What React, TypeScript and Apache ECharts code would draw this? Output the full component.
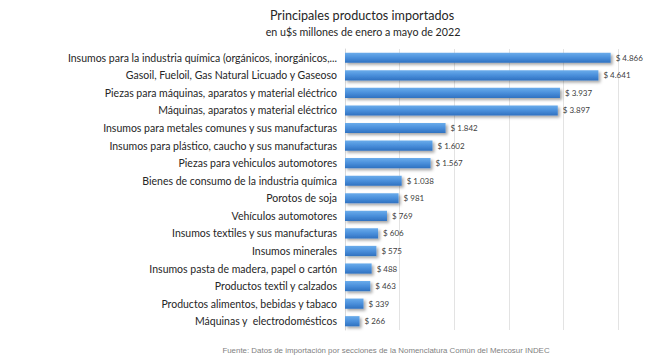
import React, { useEffect, useRef } from "react";
import * as echarts from "echarts";

const categories = [
  "Insumos para la industria química (orgánicos, inorgánicos,...",
  "Gasoil, Fueloil, Gas Natural Licuado y Gaseoso",
  "Piezas para máquinas, aparatos y material eléctrico",
  "Máquinas, aparatos y material eléctrico",
  "Insumos para metales comunes y sus manufacturas",
  "Insumos para plástico, caucho y sus manufacturas",
  "Piezas para vehiculos automotores",
  "Bienes de consumo de la industria química",
  "Porotos de soja",
  "Vehículos automotores",
  "Insumos textiles y sus manufacturas",
  "Insumos minerales",
  "Insumos pasta de madera, papel o cartón",
  "Productos textil y calzados",
  "Productos alimentos, bebidas y tabaco",
  "Máquinas y  electrodomésticos",
];
const values = [4866, 4641, 3937, 3897, 1842, 1602, 1567, 1038, 981, 769, 606, 575, 488, 463, 339, 266];

const titleText = "Principales productos importados";
const subtitleText = "en u$s millones de enero a mayo de 2022";
const sourceText = "Fuente: Datos de importación por secciones de la Nomenclatura Común del Mercosur INDEC";

const fmt = (v: number) => "$ " + String(v).replace(/\B(?=(\d{3})+(?!\d))/g, ".");

export default function App() {
  const ref = useRef<HTMLDivElement>(null);
  useEffect(() => {
    if (!ref.current) return;
    const chart = echarts.init(ref.current, undefined, { renderer: "svg" });
    chart.setOption({
      animation: false,
      backgroundColor: "#ffffff",
      title: [
        {
          text: titleText,
          left: 357,
          textAlign: "center",
          top: 4,
          textStyle: { fontFamily: "Lato", fontSize: 12.6, fontWeight: "normal", color: "#262626" },
        },
        {
          text: subtitleText,
          left: 358,
          textAlign: "center",
          top: 21,
          textStyle: { fontFamily: "Lato", fontSize: 10.7, fontWeight: "normal", color: "#262626" },
        },
        {
          text: sourceText,
          left: 381,
          textAlign: "center",
          top: 341,
          textStyle: { fontFamily: "Liberation Sans", fontSize: 7.9, fontWeight: "normal", color: "#7f7f7f" },
        },
      ],
      grid: { left: 345, right: 32, top: 49, bottom: 34, containLabel: false },
      xAxis: {
        type: "value",
        min: 0,
        max: 5000,
        interval: 1000,
        axisLabel: { show: false },
        axisLine: { show: false },
        axisTick: { show: false },
        splitLine: { show: true, lineStyle: { color: "#e3e3e3", width: 1 } },
      },
      yAxis: {
        type: "category",
        data: categories,
        inverse: true,
        axisLine: { show: true, lineStyle: { color: "#d9d9d9" } },
        axisTick: { show: false },
        axisLabel: {
          fontFamily: "Lato",
          fontSize: 10.5,
          color: "#262626",
          margin: 8,
        },
      },
      series: [
        {
          type: "bar",
          data: values,
          barCategoryGap: "42%",
          itemStyle: {
            color: new echarts.graphic.LinearGradient(0, 0, 0, 1, [
              { offset: 0, color: "#6aaceb" },
              { offset: 0.5, color: "#4a8fdb" },
              { offset: 1, color: "#2f71c0" },
            ]),
            shadowColor: "rgba(0,0,0,0.35)",
            shadowBlur: 3,
            shadowOffsetX: 2,
            shadowOffsetY: 2,
          },
          label: {
            show: true,
            position: "right",
            distance: 5,
            formatter: (p: any) => fmt(p.value),
            fontFamily: "Lato",
            fontSize: 8,
            color: "#404040",
          },
        },
      ],
    });
    return () => chart.dispose();
  }, []);
  return <div ref={ref} style={{ position: "fixed", left: 0, top: 0, width: 650, height: 364 }} />;
}
